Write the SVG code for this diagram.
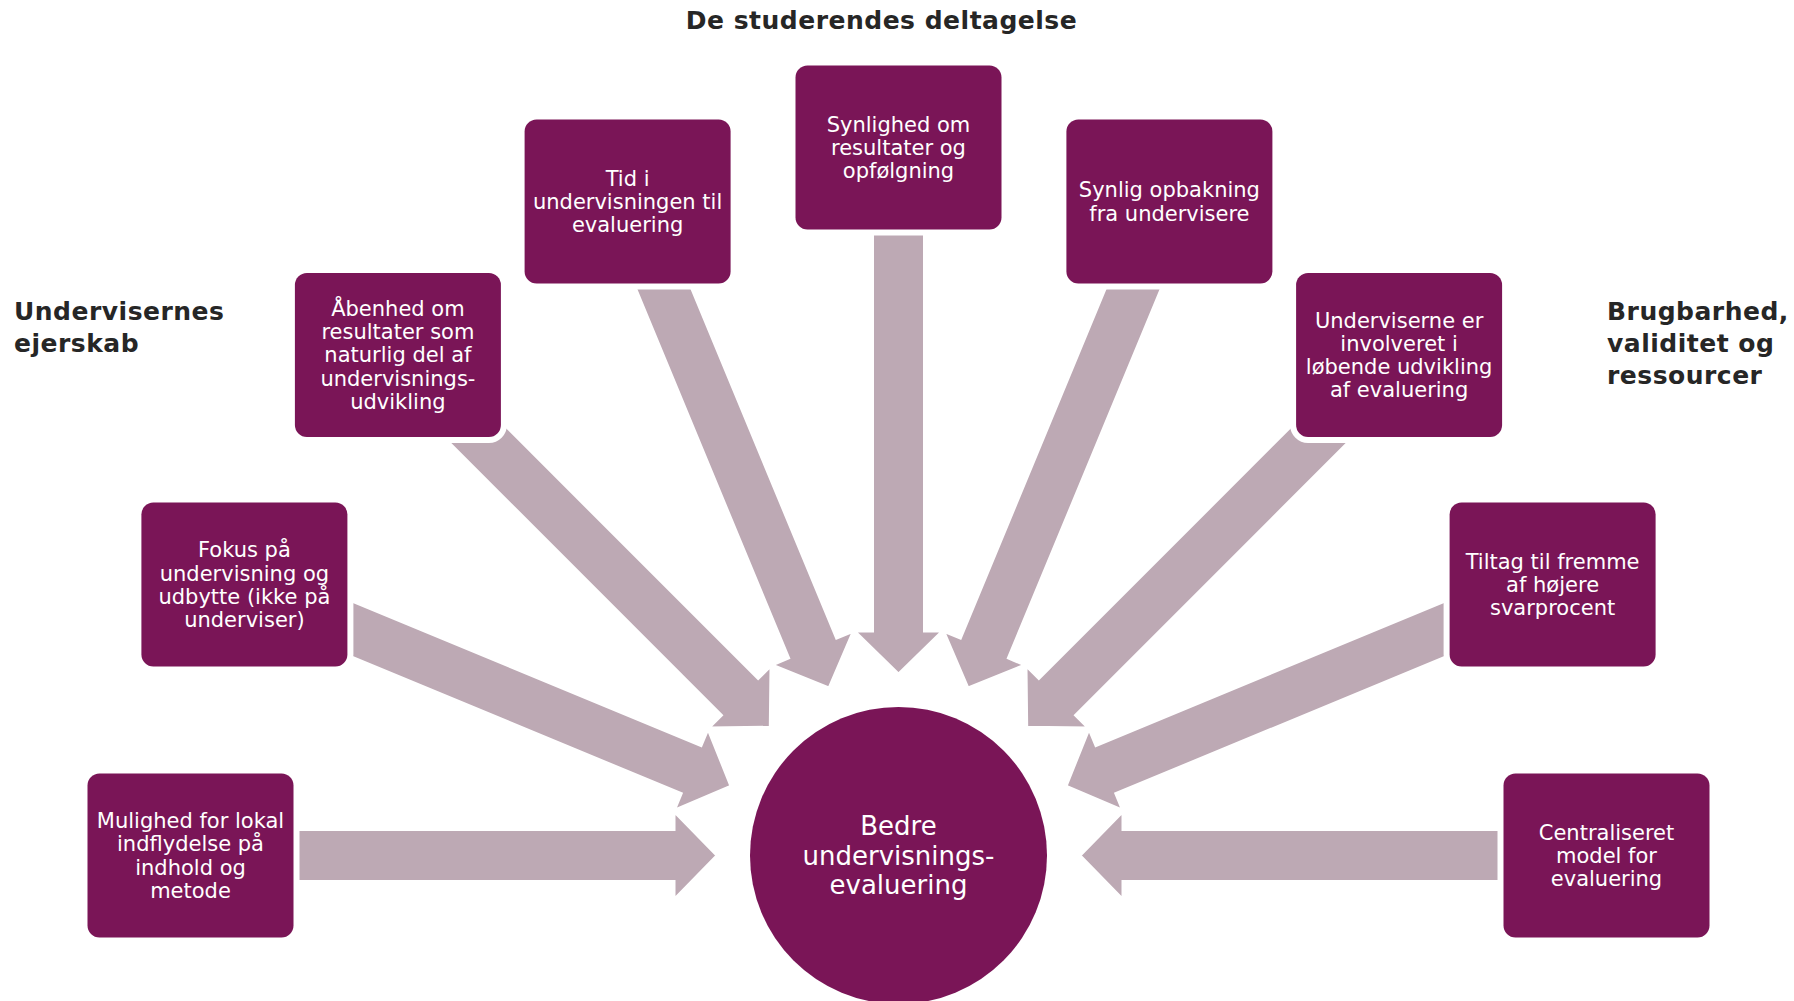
<svg xmlns="http://www.w3.org/2000/svg" width="1794" height="1001" viewBox="0 0 1794 1001">
<style>
.bg{fill:#ffffff}
.arrow{fill:#BDA9B4;stroke:#ffffff;stroke-width:2;stroke-linejoin:miter}
.box{fill:#7A1557;stroke:#ffffff;stroke-width:12;paint-order:stroke}
.hub{fill:#7A1557}
.bt{font-family:"DejaVu Sans","Verdana",sans-serif;font-size:21px;fill:#ffffff;text-anchor:middle}
.ht{font-family:"DejaVu Sans","Verdana",sans-serif;font-size:26px;fill:#ffffff;text-anchor:middle}
.lbl{font-family:"DejaVu Sans","Verdana",sans-serif;font-weight:bold;font-size:25px;letter-spacing:0.5px;fill:#262626}
</style>
<defs>
<polygon id="arw" points="-25.5,-640 25.5,-640 25.5,-224 43,-224 0,-182 -43,-224 -25.5,-224"/>
</defs>
<rect class="bg" x="0" y="0" width="1794" height="1001"/>

<g id="connectors">
<g transform="translate(898.5,855.5)">
<use href="#arw" class="arrow" transform="rotate(-90)"/>
<use href="#arw" class="arrow" transform="rotate(-67.5)"/>
<use href="#arw" class="arrow" transform="rotate(-45)"/>
<use href="#arw" class="arrow" transform="rotate(-22.5)"/>
<use href="#arw" class="arrow" transform="rotate(0)"/>
<use href="#arw" class="arrow" transform="rotate(22.5)"/>
<use href="#arw" class="arrow" transform="rotate(45)"/>
<use href="#arw" class="arrow" transform="rotate(67.5)"/>
<use href="#arw" class="arrow" transform="rotate(90)"/>
</g>
</g>

<g id="hub">
<circle class="hub" cx="898.5" cy="855.5" r="148.5"/>
<text class="ht"><tspan x="898.5" y="835">Bedre</tspan><tspan x="898.5" y="864.5">undervisnings-</tspan><tspan x="898.5" y="894">evaluering</tspan></text>
</g>

<g id="node1">
<rect class="box" x="87.5" y="773.5" width="206" height="164" rx="12"/>
<text class="bt"><tspan x="190.5" y="828">Mulighed for lokal</tspan><tspan x="190.5" y="851.4">indflydelse på</tspan><tspan x="190.5" y="874.7">indhold og</tspan><tspan x="190.5" y="898">metode</tspan></text>
</g>
<g id="node2">
<rect class="box" x="141.4" y="502.6" width="206" height="164" rx="12"/>
<text class="bt"><tspan x="244.4" y="557.2">Fokus på</tspan><tspan x="244.4" y="580.5">undervisning og</tspan><tspan x="244.4" y="603.8">udbytte (ikke på</tspan><tspan x="244.4" y="627.1">underviser)</tspan></text>
</g>
<g id="node3">
<rect class="box" x="294.9" y="272.9" width="206" height="164" rx="12"/>
<text class="bt"><tspan x="397.9" y="315.8">Åbenhed om</tspan><tspan x="397.9" y="339.1">resultater som</tspan><tspan x="397.9" y="362.4">naturlig del af</tspan><tspan x="397.9" y="385.7">undervisnings-</tspan><tspan x="397.9" y="409">udvikling</tspan></text>
</g>
<g id="node4">
<rect class="box" x="524.6" y="119.4" width="206" height="164" rx="12"/>
<text class="bt"><tspan x="627.6" y="185.6">Tid i</tspan><tspan x="627.6" y="208.9">undervisningen til</tspan><tspan x="627.6" y="232.2">evaluering</tspan></text>
</g>
<g id="node5">
<rect class="box" x="795.5" y="65.5" width="206" height="164" rx="12"/>
<text class="bt"><tspan x="898.5" y="131.7">Synlighed om</tspan><tspan x="898.5" y="155">resultater og</tspan><tspan x="898.5" y="178.3">opfølgning</tspan></text>
</g>
<g id="node6">
<rect class="box" x="1066.4" y="119.4" width="206" height="164" rx="12"/>
<text class="bt"><tspan x="1169.4" y="197.3">Synlig opbakning</tspan><tspan x="1169.4" y="220.6">fra undervisere</tspan></text>
</g>
<g id="node7">
<rect class="box" x="1296.1" y="272.9" width="206" height="164" rx="12"/>
<text class="bt"><tspan x="1399.1" y="327.5">Underviserne er</tspan><tspan x="1399.1" y="350.8">involveret i</tspan><tspan x="1399.1" y="374.1">løbende udvikling</tspan><tspan x="1399.1" y="397.4">af evaluering</tspan></text>
</g>
<g id="node8">
<rect class="box" x="1449.6" y="502.6" width="206" height="164" rx="12"/>
<text class="bt"><tspan x="1552.6" y="568.8">Tiltag til fremme</tspan><tspan x="1552.6" y="592.1">af højere</tspan><tspan x="1552.6" y="615.4">svarprocent</tspan></text>
</g>
<g id="node9">
<rect class="box" x="1503.5" y="773.5" width="206" height="164" rx="12"/>
<text class="bt"><tspan x="1606.5" y="839.7">Centraliseret</tspan><tspan x="1606.5" y="863">model for</tspan><tspan x="1606.5" y="886.3">evaluering</tspan></text>
</g>

<g id="labels">
<text class="lbl" x="881.5" y="29" text-anchor="middle">De studerendes deltagelse</text>
<text class="lbl"><tspan x="14" y="320">Undervisernes</tspan><tspan x="14" y="352">ejerskab</tspan></text>
<text class="lbl"><tspan x="1607" y="320">Brugbarhed,</tspan><tspan x="1607" y="352">validitet og</tspan><tspan x="1607" y="384">ressourcer</tspan></text>
</g>
</svg>
